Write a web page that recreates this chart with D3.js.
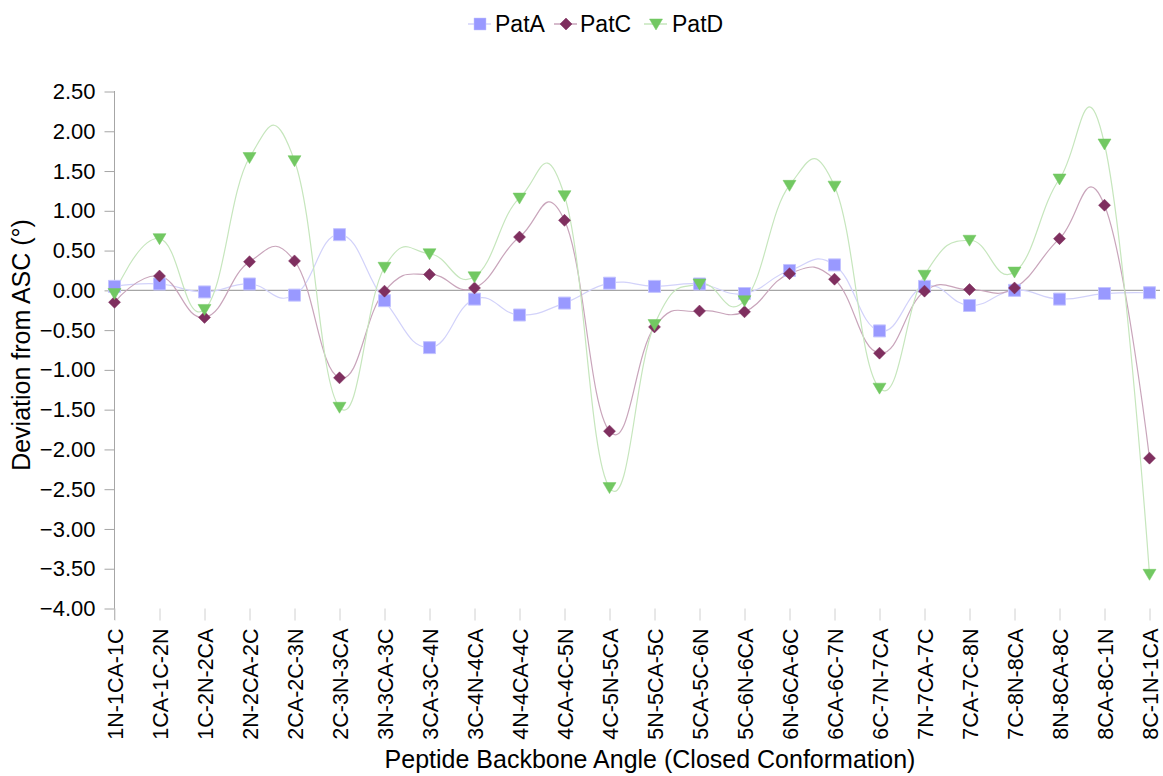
<!DOCTYPE html>
<html>
<head>
<meta charset="utf-8">
<script src="https://cdn.jsdelivr.net/npm/d3@7"></script>
<style>
  html, body { margin: 0; padding: 0; background: #fff; }
  svg { display: block; font-family: "Liberation Sans", Arial, sans-serif; }
</style>
</head>
<body>
<svg id="chart" width="1163" height="776"></svg>
<script>
const categories = ["1N-1CA-1C","1CA-1C-2N","1C-2N-2CA","2N-2CA-2C","2CA-2C-3N","2C-3N-3CA","3N-3CA-3C","3CA-3C-4N","3C-4N-4CA","4N-4CA-4C","4CA-4C-5N","4C-5N-5CA","5N-5CA-5C","5CA-5C-6N","5C-6N-6CA","6N-6CA-6C","6CA-6C-7N","6C-7N-7CA","7N-7CA-7C","7CA-7C-8N","7C-8N-8CA","8N-8CA-8C","8CA-8C-1N","8C-1N-1CA"];
const patA = [0.05,0.08,-0.02,0.08,-0.06,0.70,-0.13,-0.72,-0.11,-0.31,-0.16,0.09,0.05,0.08,-0.04,0.25,0.32,-0.51,0.05,-0.19,0.00,-0.11,-0.04,-0.03];
const patC = [-0.15,0.18,-0.34,0.36,0.37,-1.10,-0.01,0.20,0.03,0.67,0.88,-1.77,-0.46,-0.26,-0.27,0.21,0.14,-0.79,-0.01,0.01,0.03,0.65,1.07,-2.11];
const patD = [-0.04,0.65,-0.24,1.67,1.63,-1.47,0.29,0.46,0.17,1.16,1.19,-2.48,-0.43,0.08,-0.13,1.32,1.31,-1.23,0.19,0.63,0.23,1.40,1.84,-3.57];
const yTicks = [2.5,2.0,1.5,1.0,0.5,0.0,-0.5,-1.0,-1.5,-2.0,-2.5,-3.0,-3.5,-4.0];
const seriesNames = ["PatA","PatC","PatD"];

const series = [
  {name: seriesNames[0], values: patA, fill: "#9999ff", stroke: "#c4c4ff", line: "#d2d2fa", shape: "square"},
  {name: seriesNames[1], values: patC, fill: "#7f2f5f", stroke: "#7f2f5f", line: "#c9a5bb", shape: "diamond"},
  {name: seriesNames[2], values: patD, fill: "#72c862", stroke: "#72c862", line: "#c6e6bd", shape: "triangle"}
];

const FONT = "'Liberation Sans', Arial, sans-serif";
const svg = d3.select("#chart");
const x = d3.scalePoint().domain(categories).range([114.5, 1149.5]);
const y = d3.scaleLinear().domain([-4, 2.5]).range([608.5, 91.5]);

const gray = "#a6a6a6";

// y axis
const yAxis = d3.axisLeft(y).tickValues(yTicks).tickSize(10).tickPadding(9)
  .tickFormat(d3.format(".2f"));
const gy = svg.append("g").attr("transform", "translate(114.5,0)").call(yAxis);
gy.select(".domain").remove();
gy.selectAll(".tick line").attr("stroke", gray);
gy.selectAll(".tick text").attr("font-size", 22).attr("fill", "#000").attr("font-family", FONT);
svg.append("line").attr("x1", 114.5).attr("x2", 114.5).attr("y1", 91).attr("y2", 620)
  .attr("stroke", gray);

// x axis (ticks + labels at bottom)
const xAxis = d3.axisBottom(x).tickSize(12).tickPadding(8);
const gx = svg.append("g").attr("transform", "translate(0,608.5)").call(xAxis);
gx.select(".domain").remove();
gx.selectAll(".tick line").attr("stroke", "#d0d0d0");
gx.selectAll(".tick text")
  .attr("font-size", 21.5).attr("fill", "#000").attr("font-family", FONT)
  .attr("transform", "rotate(-90)")
  .attr("text-anchor", "end")
  .attr("x", -20).attr("y", 0).attr("dy", "0.36em");

// zero line
svg.append("line").attr("x1", 114.5).attr("x2", 1160).attr("y1", y(0)).attr("y2", y(0))
  .attr("stroke", gray).attr("stroke-width", 1.2);

// axis titles
svg.append("text").attr("x", 650).attr("y", 768).attr("text-anchor", "middle")
  .attr("font-size", 25).attr("font-family", FONT).text("Peptide Backbone Angle (Closed Conformation)");
svg.append("text").attr("transform", "translate(30,345) rotate(-90)").attr("text-anchor", "middle")
  .attr("font-size", 25).attr("font-family", FONT).text("Deviation from ASC (°)");

// lines
const line = d3.line()
  .x((d, i) => x(categories[i]))
  .y(d => y(d))
  .curve(d3.curveCardinal.tension(-0.35));

series.forEach(s => {
  svg.append("path").datum(s.values).attr("d", line)
    .attr("fill", "none").attr("stroke", s.line).attr("stroke-width", 1.2);
});

function symbolPath(shape) {
  if (shape === "square") return "M-6,-6H6V6H-6Z";
  if (shape === "diamond") return "M0,-6L6,0L0,6L-6,0Z";
  return "M-6.5,-5H6.5L0,6Z";
}

series.forEach(s => {
  svg.append("g").selectAll("path").data(s.values).join("path")
    .attr("transform", (d, i) => `translate(${x(categories[i])},${y(d)})`)
    .attr("d", symbolPath(s.shape))
    .attr("fill", s.fill).attr("stroke", s.stroke).attr("stroke-width", s.shape === "square" ? 1 : 0.5);
});

// legend
const legendItems = [
  {s: series[0], cx: 480, tx: 495},
  {s: series[1], cx: 566, tx: 580},
  {s: series[2], cx: 656, tx: 672}
];
const lg = svg.append("g");
legendItems.forEach(it => {
  lg.append("line").attr("x1", it.cx - 12).attr("x2", it.cx + 11).attr("y1", 24).attr("y2", 24)
    .attr("stroke", it.s.line).attr("stroke-width", 1.5);
  lg.append("path").attr("transform", `translate(${it.cx},24)`).attr("d", symbolPath(it.s.shape))
    .attr("fill", it.s.fill).attr("stroke", it.s.stroke).attr("stroke-width", 0.5);
  lg.append("text").attr("x", it.tx).attr("y", 32).attr("font-size", 23).attr("font-family", FONT).text(it.s.name);
});
</script>
</body>
</html>
